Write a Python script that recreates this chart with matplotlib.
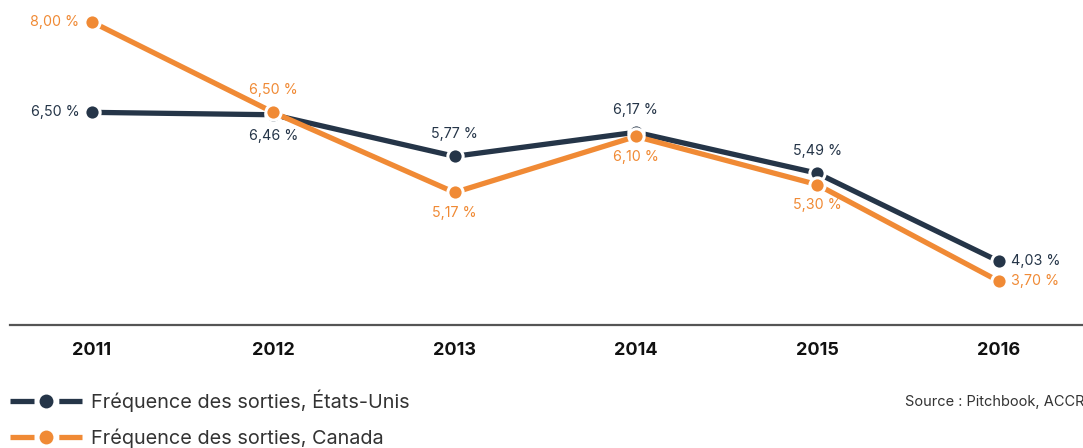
import numpy as np
import matplotlib.pyplot as plt
from matplotlib.lines import Line2D

# Données
annees = [2011, 2012, 2013, 2014, 2015, 2016]
etats_unis = [6.50, 6.46, 5.77, 6.17, 5.49, 4.03]
canada = [8.00, 6.50, 5.17, 6.10, 5.30, 3.70]
etiquettes_eu = ['6,50 %', '6,46 %', '5,77 %', '6,17 %', '5,49 %', '4,03 %']
etiquettes_ca = ['8,00 %', '6,50 %', '5,17 %', '6,10 %', '5,30 %', '3,70 %']
position_eu = ['gauche', 'bas', 'haut', 'haut', 'haut', 'droite']
position_ca = ['gauche', 'haut', 'bas', 'bas', 'bas', 'droite']
noms = ['Fréquence des sorties, États-Unis', 'Fréquence des sorties, Canada']

bleu = '#253548'
orange = '#F08A35'

plt.rcParams['font.family'] = ['Inter', 'DejaVu Sans']

fig = plt.figure(figsize=(10.83, 4.48), dpi=100)
ax = fig.add_axes([10 / 1083, 1 - 325 / 448, 1 - 10 / 1083, 325 / 448])

decalages = {'gauche': ((-9, 0), 'right', 'center'),
             'droite': ((9, 0), 'left', 'center'),
             'haut': ((0, 16), 'center', 'center'),
             'bas': ((0, -15), 'center', 'center')}


def tracer(valeurs, etiquettes, positions, couleur):
    ax.plot(annees, valeurs, color=couleur, lw=3.8, marker='o', ms=11,
            markeredgecolor='white', markeredgewidth=2.2, solid_capstyle='butt', zorder=3)
    for x, y, txt, pos in zip(annees, valeurs, etiquettes, positions):
        off, ha, va = decalages[pos]
        ax.annotate(txt, (x, y), xytext=off, textcoords='offset points',
                    ha=ha, va=va, fontsize=10.3, color=couleur)


tracer(etats_unis, etiquettes_eu, position_eu, bleu)
tracer(canada, etiquettes_ca, position_ca, orange)

ax.set_xlim(2010.548, 2016.466)
ax.set_ylim(2.97, 8.365)
ax.set_xticks(annees)
ax.set_xticklabels([str(a) for a in annees], fontsize=13, fontweight='bold', color='#111111')
ax.tick_params(axis='x', length=0, pad=12)
ax.set_yticks([])
for c in ['top', 'left', 'right']:
    ax.spines[c].set_visible(False)
ax.spines['bottom'].set_color('#555555')
ax.spines['bottom'].set_linewidth(1.6)
ax.patch.set_alpha(0)

# poignées de légende : trait - point - trait
poignees = [Line2D([0], [0], color=c, lw=3.8, dashes=(4.55, 4.7), dash_capstyle='butt',
                   marker='o', ms=10, markeredgewidth=0)
            for c in (bleu, orange)]
leg = fig.legend(poignees, noms, loc='upper left', bbox_to_anchor=(10 / 1083, 1 - 389 / 448),
                 frameon=False, fontsize=14.3, handlelength=3.6, handletextpad=0.5,
                 labelspacing=0.85, borderaxespad=0, borderpad=0)
for t in leg.get_texts():
    t.set_color('#333333')

fig.text(905 / 1083, 1 - 402 / 448, 'Source : Pitchbook, ACCR', fontsize=10.5,
         color='#333333', ha='left', va='center')

fig.savefig('out.png', dpi=100)
